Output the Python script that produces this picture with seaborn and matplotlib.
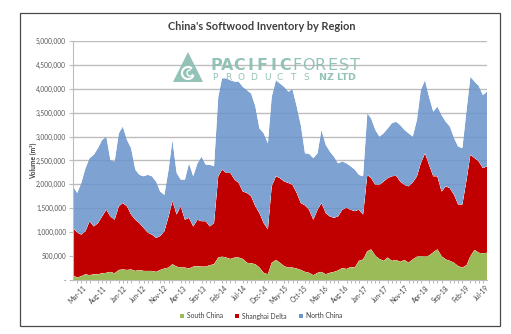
import numpy as np
import pandas as pd
import matplotlib
matplotlib.use("Agg")
import matplotlib.pyplot as plt
import matplotlib.dates as mdates
import matplotlib.transforms as mtransforms
from matplotlib.patches import Polygon, Rectangle, Arc, Patch
from matplotlib.ticker import FuncFormatter, MultipleLocator
import seaborn as sns
import seaborn.objects as so

# ---------------- data (thousand m3, monthly, Mar-2011 .. Jul-2019) ----------------
start_month = "2011-03-01"
end_month = "2019-07-01"

south_china = [
    100, 50, 80, 120, 100, 120, 120, 140, 150, 170,
    140, 210, 220, 210, 220, 190, 210, 190, 190, 190,
    170, 210, 240, 260, 330, 280, 260, 260, 240, 280,
    290, 280, 280, 310, 330, 470, 490, 470, 440, 470,
    470, 440, 360, 350, 330, 260, 150, 120, 360, 420,
    360, 290, 260, 260, 240, 210, 170, 150, 100, 150,
    170, 120, 150, 170, 200, 250, 230, 270, 260, 400,
    430, 600, 640, 510, 440, 400, 470, 400, 420, 380,
    420, 360, 430, 490, 500, 490, 510, 580, 640, 500,
    430, 400, 360, 290, 260, 310, 500, 630, 570, 560,
    570]

shanghai_delta = [
    990, 940, 870, 900, 1130, 1000, 1070, 1190, 1320, 1160,
    1120, 1330, 1390, 1330, 1150, 1070, 980, 900, 800, 760,
    710, 710, 780, 1070, 1320, 1090, 1280, 1000, 1060, 840,
    970, 950, 950, 810, 860, 1700, 1820, 1770, 1800, 1630,
    1560, 1410, 1460, 1400, 1210, 1140, 1040, 940, 1600, 1750,
    1770, 1770, 1770, 1730, 1580, 1400, 1390, 1320, 1160, 1320,
    1440, 1280, 1180, 1130, 1130, 1220, 1280, 1200, 1180, 1070,
    940, 1600, 1490, 1480, 1550, 1660, 1660, 1770, 1760, 1680,
    1570, 1600, 1610, 1680, 1940, 2160, 1900, 1590, 1530, 1350,
    1530, 1520, 1420, 1290, 1320, 1790, 2120, 1920, 1910, 1780,
    1810]

north_china = [
    870, 830, 1080, 1320, 1320, 1500, 1570, 1600, 1530, 1180,
    1220, 1530, 1600, 1390, 1390, 1050, 1010, 1080, 1210, 1220,
    1180, 930, 760, 980, 1280, 870, 560, 840, 1140, 1050,
    1180, 1350, 1180, 1290, 1190, 1660, 1910, 1980, 1940, 2050,
    2120, 2190, 2150, 2150, 2090, 1770, 1880, 1800, 1870, 2010,
    1980, 1980, 1910, 2000, 1810, 1630, 1090, 1170, 1290, 1180,
    1530, 1430, 1360, 1280, 1110, 1010, 930, 910, 870, 730,
    800, 1290, 1250, 1150, 1010, 1010, 1040, 1110, 1130, 1180,
    1150, 1110, 960, 1180, 1530, 1530, 1420, 1350, 1460, 1600,
    1350, 1290, 1190, 1210, 1180, 1460, 1630, 1600, 1580, 1530,
    1560]

regions = ["South China", "Shanghai Delta", "North China"]
colors = {"South China": "#9BBB59", "Shanghai Delta": "#C00000", "North China": "#6C95CB"}
alphas = {"South China": 1.0, "Shanghai Delta": 1.0, "North China": 0.88}

tick_labels = ["Mar-11", "Aug-11", "Jan-12", "Jun-12", "Nov-12", "Apr-13", "Sep-13",
               "Feb-14", "Jul-14", "Dec-14", "May-15", "Oct-15", "Mar-16", "Aug-16",
               "Jan-17", "Jun-17", "Nov-17", "Apr-18", "Sep-18", "Feb-19", "Jul-19"]

dates = pd.date_range(start_month, end_month, freq="MS")
series = {"South China": south_china, "Shanghai Delta": shanghai_delta, "North China": north_china}
df = pd.concat(
    [pd.DataFrame({"date": dates, "value": np.array(series[r]) * 1000.0, "region": r}) for r in regions],
    ignore_index=True)

# ---------------- figure ----------------
sns.set_theme(style="white")
plt.rcParams["font.family"] = ["Lato", "DejaVu Sans"]

W, H = 511, 334
fig = plt.figure(figsize=(W / 100, H / 100), dpi=100)
fig.patch.set_facecolor("white")
L, R, T, B = 73, 487, 41, 280
ax = fig.add_axes([L / W, 1 - B / H, (R - L) / W, (B - T) / H])
ax.set_facecolor("white")

(so.Plot(df, x="date", y="value", color="region", alpha="region")
    .add(so.Area(edgewidth=0), so.Stack())
    .scale(color=so.Nominal(colors, order=regions), alpha=so.Nominal(alphas, order=regions))
    .on(ax)
    .plot())
for leg in list(fig.legends):
    leg.set_visible(False)
fig.legends.clear()

ax.set_xlim(dates[0], dates[-1])
ax.set_ylim(0, 5_000_000)
ax.set_xlabel("")
ax.set_ylabel("")

ax.yaxis.set_major_locator(MultipleLocator(500_000))
ax.yaxis.set_major_formatter(FuncFormatter(lambda v, p: "-" if v == 0 else f"{int(round(v)):,}"))
ax.grid(False)
ax.grid(axis="y", color="#BDBDBD", lw=1.0)
ax.set_axisbelow(True)

for s in ["top", "right"]:
    ax.spines[s].set_visible(False)
for s in ["left", "bottom"]:
    ax.spines[s].set_visible(True)
    ax.spines[s].set_color("#BDBDBD")
    ax.spines[s].set_linewidth(0.8)

tick_dates = pd.date_range(start_month, end_month, freq="5MS")
ax.set_xticks(mdates.date2num(tick_dates.to_pydatetime()))
ax.set_xticklabels(tick_labels)
ax.xaxis.set_minor_locator(mdates.MonthLocator())
ax.tick_params(axis="x", which="major", length=0, pad=3.5, labelsize=4.7, labelcolor="#404040")
ax.tick_params(axis="x", which="minor", length=2, width=0.5, color="#9A9A9A", bottom=True)
ax.tick_params(axis="y", which="major", length=3, width=0.8, color="#BDBDBD", pad=2,
               labelsize=4.8, labelcolor="#595959", left=True)

n = len(tick_labels)
for i, lab in enumerate(ax.get_xticklabels()):
    lab.set_rotation(45)
    lab.set_ha("right")
    lab.set_va("center")
    lab.set_rotation_mode("anchor")
    dx = (12 - 11 * i / (n - 1)) / 100
    lab.set_transform(lab.get_transform() + mtransforms.ScaledTranslation(dx, -0.02, fig.dpi_scale_trans))

# ---------------- texts ----------------
fig.text(262 / W, 1 - 27 / H, "China's Softwood Inventory by Region", ha="center", va="center",
         fontsize=7.9, fontweight="bold", color="#404040")
fig.text(33 / W, 1 - 161 / H, "Volume (m³)", rotation=90, ha="center", va="center",
         fontsize=4.8, fontweight="bold", color="#404040")

handles = [Patch(facecolor=colors[r], edgecolor="none") for r in regions]
fig.legend(handles, regions, loc="center", bbox_to_anchor=(261 / W, 1 - 316 / H), ncol=3,
           frameon=False, fontsize=4.9, handlelength=0.6, handleheight=0.6, handletextpad=0.4,
           columnspacing=1.8, labelcolor="#404040")

# outer border
fig.add_artist(Rectangle((20 / W, 1 - 326 / H), 480 / W, 313 / H, transform=fig.transFigure,
                         fill=False, edgecolor="#4a4a4a", lw=0.9))

# ---------------- watermark logo ----------------
teal = "#8DBFB3"
def fx(px):
    return px / W
def fy(py):
    return 1 - py / H

fig.add_artist(Polygon([(fx(173), fy(82)), (fx(203), fy(82)), (fx(188), fy(52))], closed=True,
                       transform=fig.transFigure, facecolor=teal, edgecolor="none", alpha=0.95))
fig.add_artist(Arc((fx(188), fy(73)), 12 / W, 12 / H, theta1=60, theta2=330, transform=fig.transFigure,
                   color="white", lw=1.6))
fig.add_artist(Arc((fx(190), fy(73)), 6 / W, 6 / H, theta1=80, theta2=330, transform=fig.transFigure,
                   color="white", lw=1.0))

line1 = "PACIFICFOREST"
for i, ch in enumerate(line1):
    fig.text(fx(216 + i * 11.6), fy(66), ch, ha="center", va="center", fontsize=11.5,
             fontweight="bold" if i < 7 else "normal", color=teal, alpha=0.95,
             family=["DejaVu Sans"])
for i, ch in enumerate("PRODUCTS"):
    fig.text(fx(215 + i * 13.0), fy(77.5), ch, ha="center", va="center", fontsize=6.5,
             color=teal, alpha=0.95, family=["DejaVu Sans"])
fig.text(fx(319), fy(77.5), "NZ LTD", ha="left", va="center", fontsize=6.8, fontweight="bold",
         color=teal, alpha=0.95, family=["DejaVu Sans"])

fig.savefig("out.png", dpi=100, facecolor="white")
